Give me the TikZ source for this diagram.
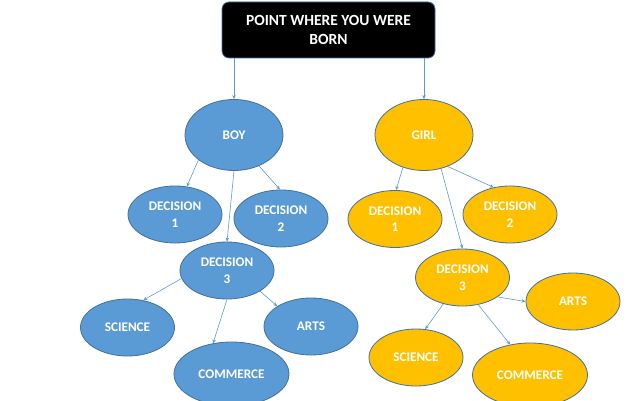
\documentclass[tikz,border=0pt]{standalone}
\usepackage{fontspec}
\setmainfont{Carlito}
\usetikzlibrary{shapes.geometric,arrows.meta}
\definecolor{bluefill}{HTML}{5B9BD5}
\definecolor{blueline}{HTML}{41719C}
\definecolor{goldfill}{HTML}{FFC000}
\definecolor{arrowc}{HTML}{5B9BD5}
\tikzset{
  oval/.style={ellipse, draw=blueline, line width=0.8pt, inner sep=0pt,
    minimum width=94pt, minimum height=57pt, text=white, align=center,
    font=\fontsize{13.2}{16.5}\selectfont\bfseries},
  bl/.style={oval, fill=bluefill},
  gd/.style={oval, fill=goldfill},
  big/.style={minimum width=115pt, minimum height=64pt},
  root/.style={oval, minimum width=98pt, minimum height=71pt},
  conn/.style={draw=arrowc, line width=0.6pt, -{Stealth[length=4pt,width=3.5pt]}},
  topbox/.style={rectangle, rounded corners=7pt, fill=black, draw=blueline,
    line width=0.8pt, minimum width=213pt, minimum height=56pt, text=white,
    align=center, font=\fontsize{15.5}{18.5}\selectfont\bfseries, inner sep=0pt}
}
\begin{document}
\begin{tikzpicture}[x=1pt,y=-1pt]
\useasboundingbox (0,0) rectangle (640,401);
\node[topbox] (top) at (328.5,30) {POINT WHERE YOU WERE\\BORN};
% boy side
\node[root, fill=bluefill] (boy) at (234,135) {BOY};
\node[bl] (bd1) at (175,214.5) {DECISION\\1};
\node[bl] (bd2) at (281,218.5) {DECISION\\2};
\node[bl] (bd3) at (227,270.5) {DECISION\\3};
\node[bl] (bsci) at (127.5,327.5) {SCIENCE};
\node[bl] (barts) at (311,326.5) {ARTS};
\node[bl,big] (bcom) at (231.5,374) {COMMERCE};
% girl side
\node[root, fill=goldfill] (girl) at (424,135) {GIRL};
\node[gd] (gd1) at (395,219) {DECISION\\1};
\node[gd] (gd2) at (510,214.5) {DECISION\\2};
\node[gd] (gd3) at (462.5,277.5) {DECISION\\3};
\node[gd] (garts) at (573,301.5) {ARTS};
\node[gd] (gsci) at (416,357.5) {SCIENCE};
\node[gd,big] (gcom) at (530,375) {COMMERCE};
% connectors
\draw[conn] (top.south -| boy.north) -- (boy.north);
\draw[conn] (top.south -| girl.north) -- (girl.north);
\draw[conn] (boy.215) -- (bd1.67);
\draw[conn] (boy.309) -- (bd2.92);
\draw[conn] (boy.270) -- (bd3.90);
\draw[conn] (bd3.190) -- (bsci.60);
\draw[conn] (bd3.270) -- (bcom.121);
\draw[conn] (bd3.328) -- (barts.149);
\draw[conn] (girl.237) -- (gd1.88);
\draw[conn] (girl.307) -- (gd2.121);
\draw[conn] (girl.297) -- (gd3.90);
\draw[conn] (gd3.331) -- (garts.180);
\draw[conn] (gd3.234) -- (gsci.72);
\draw[conn] (gd3.300) -- (gcom.123);
\end{tikzpicture}
\end{document}
